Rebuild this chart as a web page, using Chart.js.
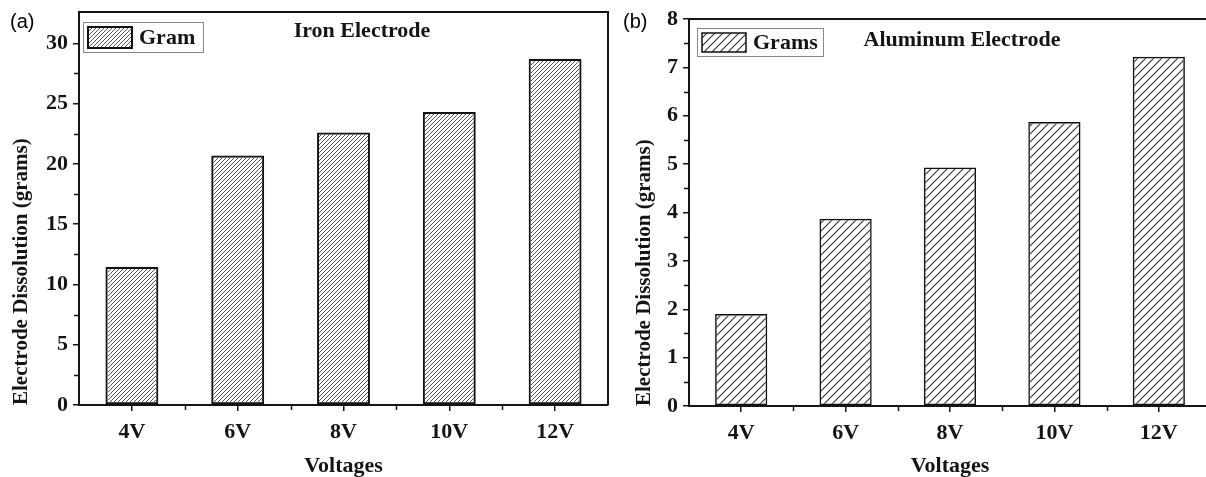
<!DOCTYPE html>
<html>
<head>
<meta charset="utf-8">
<script src="https://cdn.jsdelivr.net/npm/chart.js@4.4.1/dist/chart.umd.min.js"></script>
<style>
  html, body { margin: 0; padding: 0; background: #fff; width: 1206px; height: 477px; overflow: hidden; }
  .panel { position: absolute; top: 0; }
  #panelA { left: 0; }
  #panelB { left: 612px; }
</style>
</head>
<body>
<div class="panel" id="panelA"><canvas id="chartA" width="612" height="477"></canvas></div>
<div class="panel" id="panelB"><canvas id="chartB" width="600" height="477"></canvas></div>
<script>
  'use strict';

  // categories and values
  const voltages = ['4V', '6V', '8V', '10V', '12V'];
  const ironGrams = [11.45, 20.7, 22.6, 24.3, 28.7];
  const aluminumGrams = [1.9, 3.87, 4.93, 5.87, 7.22];

  // y tick labels
  const ironTicks = [0, 5, 10, 15, 20, 25, 30];
  const aluminumTicks = [0, 1, 2, 3, 4, 5, 6, 7, 8];

  const serif = '"Liberation Serif", "Times New Roman", serif';
  const ink = '#151515';

  // diagonal hatch fill
  function hatch(ctx, period, color, width) {
    const c = document.createElement('canvas');
    c.width = c.height = period;
    const x = c.getContext('2d');
    x.strokeStyle = color;
    x.lineWidth = width;
    x.beginPath();
    x.moveTo(0, period); x.lineTo(period, 0);
    x.moveTo(-period / 2, period / 2); x.lineTo(period / 2, -period / 2);
    x.moveTo(period / 2, period * 1.5); x.lineTo(period * 1.5, period / 2);
    x.stroke();
    return ctx.createPattern(c, 'repeat');
  }

  // frame, minor ticks, inner title, legend and panel letter
  const panelPlugin = {
    id: 'panel',
    afterDraw(chart, args, o) {
      const { ctx, chartArea: a, scales: { x, y } } = chart;
      ctx.save();
      ctx.strokeStyle = ink;
      ctx.lineWidth = 2;
      ctx.beginPath();
      ctx.moveTo(a.left, a.top);
      ctx.lineTo(a.right, a.top);
      ctx.lineTo(a.right, a.bottom);
      ctx.stroke();

      // minor ticks
      ctx.lineWidth = 1.5;
      ctx.beginPath();
      const yt = o.yTicks;
      for (let i = 0; i < yt.length - 1; i++) {
        const py = Math.round(y.getPixelForValue((yt[i] + yt[i + 1]) / 2)) + 0.5;
        ctx.moveTo(a.left - 5, py); ctx.lineTo(a.left, py);
      }
      for (let i = 0; i < voltages.length - 1; i++) {
        const px = Math.round((x.getPixelForValue(i) + x.getPixelForValue(i + 1)) / 2) + 0.5;
        ctx.moveTo(px, a.bottom); ctx.lineTo(px, a.bottom + 5);
      }
      ctx.stroke();

      // panel letter
      ctx.fillStyle = '#000';
      ctx.font = '20px "Liberation Sans", Arial, sans-serif';
      ctx.textBaseline = 'middle';
      ctx.textAlign = 'left';
      ctx.fillText(o.letter, o.letterX, 22);

      // inner title
      ctx.fillStyle = ink;
      ctx.font = 'bold 22px ' + serif;
      ctx.textAlign = 'center';
      ctx.fillText(o.title, o.titleX, o.titleY);

      // legend
      const L = o.legend;
      const ds = chart.data.datasets[0];
      ctx.strokeStyle = '#888';
      ctx.lineWidth = 1;
      ctx.strokeRect(a.left + L.dx + 0.5, a.top + L.dy + 0.5, L.w, L.h);
      const sx = a.left + L.dx + 5, sy = a.top + L.dy + 5;
      ctx.fillStyle = ds.backgroundColor;
      ctx.fillRect(sx, sy, 44, L.h - 9);
      ctx.strokeStyle = '#111';
      ctx.lineWidth = ds.borderWidth;
      ctx.strokeRect(sx, sy, 44, L.h - 9);
      ctx.fillStyle = ink;
      ctx.font = 'bold 22px ' + serif;
      ctx.textAlign = 'left';
      ctx.fillText(ds.label, sx + 51, a.top + L.dy + L.h / 2 + 1);
      ctx.restore();
    }
  };

  function makeChart(id, label, values, ticks, yMax, pad, yWidth, xHeight, hatchOpts, borderW, panelOpts, titlePad) {
    const canvas = document.getElementById(id);
    const ctx = canvas.getContext('2d');
    const fill = hatch(ctx, hatchOpts.period, hatchOpts.color, hatchOpts.width);
    const tickFont = { family: serif, weight: 'bold', size: 22 };
    const gridOpts = { drawOnChartArea: false, offset: false, tickLength: 6, color: ink, lineWidth: 1.5 };
    panelOpts.yTicks = ticks;

    return new Chart(canvas, {
      type: 'bar',
      data: {
        labels: voltages,
        datasets: [{
          label: label,
          data: values,
          backgroundColor: fill,
          borderColor: '#111',
          borderWidth: borderW,
          borderSkipped: false,
          barPercentage: 0.5,
          categoryPercentage: 1.0
        }]
      },
      options: {
        responsive: false,
        animation: false,
        devicePixelRatio: 1,
        layout: { padding: pad },
        plugins: {
          legend: { display: false },
          tooltip: { enabled: false },
          panel: panelOpts
        },
        scales: {
          x: {
            offset: true,
            grid: gridOpts,
            border: { display: true, width: 2, color: ink },
            ticks: { font: tickFont, color: ink, padding: 8, maxRotation: 0 },
            title: { display: true, text: 'Voltages', color: ink, padding: 0, font: { family: serif, weight: 'bold', size: 22, lineHeight: 1 } },
            afterFit(s) { s.height = xHeight; s.paddingLeft = 0; s.paddingRight = 0; }
          },
          y: {
            min: 0,
            max: yMax,
            afterBuildTicks(s) { s.ticks = ticks.map(v => ({ value: v })); },
            grid: gridOpts,
            border: { display: true, width: 2, color: ink },
            ticks: { font: tickFont, color: ink, padding: 5 },
            title: { display: true, text: 'Electrode Dissolution (grams)', align: 'start', color: ink, padding: { top: titlePad }, font: { family: serif, weight: 'bold', size: 21, lineHeight: 1 } },
            afterFit(s) { s.width = yWidth; s.paddingTop = 0; s.paddingBottom = 0; }
          }
        }
      },
      plugins: [panelPlugin]
    });
  }

  makeChart('chartA', 'Gram', ironGrams, ironTicks, 32.6,
    { top: 12, right: 4, left: 0, bottom: 0 }, 79, 72,
    { period: 4, color: '#555', width: 1 }, 2,
    { letter: '(a)', letterX: 10, title: 'Iron Electrode', titleX: 362, titleY: 31,
      legend: { dx: 4, dy: 10, w: 120, h: 30 } }, 11);

  makeChart('chartB', 'Grams', aluminumGrams, aluminumTicks, 8,
    { top: 19, right: 1, left: 0, bottom: 0 }, 77, 71,
    { period: 8, color: '#333', width: 1.1 }, 1.5,
    { letter: '(b)', letterX: 11, title: 'Aluminum Electrode', titleX: 350, titleY: 40,
      legend: { dx: 8, dy: 9, w: 126, h: 28 } }, 22);
</script>
</body>
</html>
